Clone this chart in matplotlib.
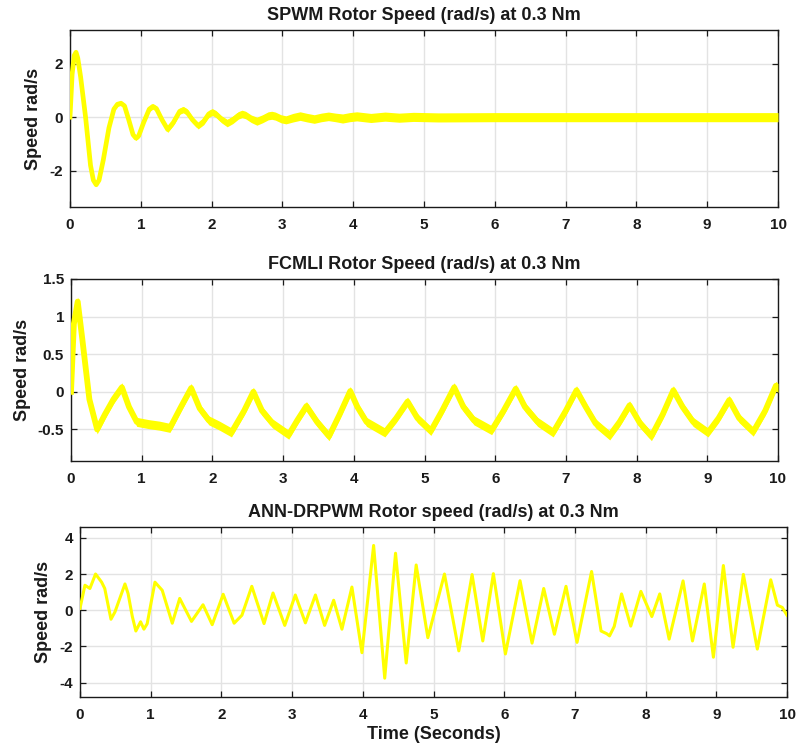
import numpy as np
import matplotlib
matplotlib.use("Agg")
import matplotlib.pyplot as plt

plt.rcParams['font.family'] = ['Liberation Sans', 'DejaVu Sans']
plt.rcParams['font.weight'] = 'bold'

# ---------------- data ----------------
titles = ["SPWM Rotor Speed (rad/s) at 0.3 Nm",
          "FCMLI Rotor Speed (rad/s) at 0.3 Nm",
          "ANN-DRPWM Rotor speed (rad/s) at 0.3 Nm"]
ylabel_text = "Speed rad/s"
xlabel_text = "Time (Seconds)"
x_ticks = [0, 1, 2, 3, 4, 5, 6, 7, 8, 9, 10]
y_ticks_spwm = [-2, 0, 2]
y_ticks_fcmli = [-0.5, 0, 0.5, 1, 1.5]
y_ticks_ann = [-4, -2, 0, 2, 4]

spwm_t = [0, 0.03, 0.06, 0.085, 0.11, 0.15, 0.22, 0.29, 0.33, 0.37, 0.41, 0.47,
          0.55, 0.62, 0.67, 0.72, 0.77, 0.83, 0.89, 0.93, 0.97, 1.04, 1.12, 1.17,
          1.22, 1.30, 1.38, 1.46, 1.55, 1.60, 1.65, 1.73, 1.81, 1.89, 1.96, 2.01,
          2.06, 2.14, 2.22, 2.30, 2.38, 2.43, 2.48, 2.56, 2.64, 2.72, 2.80, 2.85,
          2.90, 2.98, 3.05, 3.15, 3.25, 3.35, 3.45, 3.55, 3.65, 3.75, 3.85, 3.95,
          4.05, 4.25, 4.45, 4.65, 4.85, 5.2, 6.0, 7.0, 8.0, 9.0, 10.0]
spwm_v = [0.0, 1.6, 2.3, 2.42, 2.2, 1.5, 0.0, -1.8, -2.35, -2.52, -2.35, -1.6,
          -0.4, 0.3, 0.48, 0.52, 0.42, -0.1, -0.65, -0.78, -0.7, -0.2, 0.3, 0.4,
          0.32, -0.1, -0.46, -0.2, 0.22, 0.28, 0.2, -0.1, -0.32, -0.15, 0.12, 0.19,
          0.12, -0.08, -0.22, -0.1, 0.07, 0.12, 0.08, -0.06, -0.15, -0.06, 0.05, 0.07,
          0.04, -0.06, -0.1, -0.02, 0.04, -0.02, -0.07, -0.01, 0.03, -0.01, -0.05, 0.0,
          0.03, -0.03, 0.02, -0.02, 0.01, -0.01, 0.0, 0.0, 0.0, 0.0, 0.0]
spwm_ripple = [0.05, 0.05, 0.05, 0.05, 0.05, 0.05, 0.06, 0.06, 0.06, 0.06, 0.06, 0.07,
               0.07, 0.08, 0.08, 0.08, 0.08, 0.09, 0.09, 0.09, 0.09, 0.10, 0.10, 0.10,
               0.10, 0.11, 0.11, 0.11, 0.11, 0.12, 0.12, 0.12, 0.12, 0.13, 0.13, 0.13,
               0.13, 0.13, 0.14, 0.14, 0.14, 0.14, 0.14, 0.14, 0.15, 0.15, 0.15, 0.15,
               0.15, 0.15, 0.15, 0.16, 0.16, 0.16, 0.16, 0.16, 0.16, 0.16, 0.17, 0.17,
               0.17, 0.17, 0.17, 0.17, 0.17, 0.17, 0.17, 0.17, 0.17, 0.17, 0.17]

fcmli_t = [0, 0.04, 0.095, 0.16, 0.26, 0.37, 0.48, 0.6, 0.72, 0.82, 0.93, 1.1, 1.25,
           1.40, 1.55, 1.70, 1.82, 1.95, 2.1, 2.27, 2.45, 2.58, 2.7, 2.85, 3.08, 3.2,
           3.33, 3.48, 3.65, 3.8, 3.95, 4.05, 4.18, 4.44, 4.6, 4.76, 4.9, 5.09, 5.25,
           5.42, 5.55, 5.7, 5.95, 6.12, 6.29, 6.42, 6.6, 6.82, 7.0, 7.15, 7.28, 7.42,
           7.62, 7.76, 7.9, 8.05, 8.21, 8.37, 8.52, 8.65, 8.8, 9.01, 9.16, 9.31, 9.45,
           9.65, 9.82, 9.97, 10.0]
fcmli_v = [0.0, 0.9, 1.2, 0.7, -0.1, -0.5, -0.3, -0.1, 0.06, -0.2, -0.4, -0.43, -0.45,
           -0.48, -0.21, 0.05, -0.22, -0.38, -0.45, -0.54, -0.25, 0.0, -0.25, -0.42, -0.57, -0.38,
           -0.19, -0.4, -0.59, -0.3, 0.01, -0.2, -0.4, -0.54, -0.35, -0.13, -0.35, -0.52, -0.25,
           0.06, -0.2, -0.38, -0.51, -0.25, 0.04, -0.2, -0.4, -0.54, -0.25, 0.02, -0.2, -0.42,
           -0.58, -0.4, -0.18, -0.42, -0.59, -0.3, 0.02, -0.2, -0.4, -0.54, -0.35, -0.11, -0.35,
           -0.53, -0.25, 0.08, 0.05]
fcmli_ripple = 0.06

ann_t = [0.0, 0.07, 0.14, 0.22, 0.306, 0.35, 0.438, 0.494, 0.636, 0.68, 0.74, 0.79,
         0.857, 0.904, 0.95, 1.06, 1.163, 1.305, 1.41, 1.577, 1.74, 1.87, 2.025, 2.18,
         2.29, 2.43, 2.603, 2.73, 2.896, 3.046, 3.188, 3.33, 3.46, 3.588, 3.705, 3.846,
         3.988, 4.153, 4.31, 4.463, 4.614, 4.755, 4.92, 5.155, 5.358, 5.546, 5.697, 5.847,
         6.017, 6.224, 6.394, 6.559, 6.71, 6.874, 7.03, 7.236, 7.37, 7.45, 7.49, 7.556,
         7.66, 7.79, 7.933, 8.088, 8.2, 8.333, 8.53, 8.663, 8.83, 8.959, 9.1, 9.237,
         9.383, 9.58, 9.77, 9.864, 9.934, 10.0]
ann_v = [0.1, 1.38, 1.2, 2.0, 1.55, 1.2, -0.5, -0.1, 1.45, 0.92, -0.35, -1.15,
         -0.64, -1.05, -0.75, 1.55, 1.1, -0.72, 0.65, -0.62, 0.3, -0.8, 0.88, -0.72,
         -0.28, 1.32, -0.74, 0.95, -0.84, 0.84, -0.7, 0.84, -0.84, 0.55, -1.05, 1.28,
         -2.35, 3.58, -3.76, 3.15, -2.92, 2.5, -1.52, 2.0, -2.25, 1.97, -1.7, 2.02,
         -2.42, 1.63, -1.82, 1.2, -1.33, 1.32, -1.78, 2.14, -1.15, -1.3, -1.42, -0.9,
         0.9, -0.88, 1.04, -0.35, 0.9, -1.6, 1.62, -1.7, 1.45, -2.6, 2.47, -2.05,
         1.98, -2.15, 1.68, 0.28, 0.15, -0.28]

# ---------------- style ----------------
yellow = '#ffff00'
txt = '#1a1a1a'
grid_c = '#e3e3e3'

fig = plt.figure(figsize=(7.97, 7.51), dpi=100)
W, H = 797, 751
def rect(l, r, t, b):
    return [l / W, 1 - b / H, (r - l) / W, (b - t) / H]

ax1 = fig.add_axes(rect(70, 778, 30, 207))
ax2 = fig.add_axes(rect(71, 778, 279, 461))
ax3 = fig.add_axes(rect(80, 787, 527, 697))

def style(ax, yt, ylim, title):
    ax.set_xlim(0, 10)
    ax.set_ylim(*ylim)
    ax.set_xticks(x_ticks)
    ax.set_yticks(yt)
    ax.set_yticklabels([f"{v:g}" for v in yt])
    ax.grid(True, color=grid_c, linewidth=1.0)
    ax.set_axisbelow(True)
    ax.tick_params(direction='in', top=True, right=True, length=4, width=0.9,
                   labelsize=11, colors=txt)
    ax.tick_params(axis='x', pad=8)
    ax.tick_params(axis='y', pad=5)
    for lbl in ax.get_xticklabels() + ax.get_yticklabels():
        lbl.set_fontweight('bold')
    for s in ax.spines.values():
        s.set_linewidth(1.0)
        s.set_color(txt)
    ax.set_title(title, fontsize=13, fontweight='bold', color=txt, pad=7)
    ax.set_ylabel(ylabel_text, fontsize=13, fontweight='bold', color=txt, labelpad=5)

# SPWM
t1 = np.array(spwm_t); v1 = np.array(spwm_v); r1 = np.array(spwm_ripple)
ax1.fill_between(t1, v1 - r1, v1 + r1, color=yellow, linewidth=0, zorder=3)
ax1.plot(t1, v1, color=yellow, linewidth=3.4, solid_joinstyle='round', zorder=3)
style(ax1, y_ticks_spwm, (-3.35, 3.25), titles[0])

# FCMLI
t2 = np.array(fcmli_t); v2 = np.array(fcmli_v)
ax2.fill_between(t2, v2 - fcmli_ripple, v2 + fcmli_ripple, color=yellow, linewidth=0, zorder=3)
ax2.plot(t2, v2, color=yellow, linewidth=4.2, solid_joinstyle='round', zorder=3)
style(ax2, y_ticks_fcmli, (-0.92, 1.5), titles[1])

# ANN-DRPWM
ax3.plot(ann_t, ann_v, color=yellow, linewidth=2.2, solid_joinstyle='round', zorder=3)
style(ax3, y_ticks_ann, (-4.8, 4.6), titles[2])
ax3.set_xlabel(xlabel_text, fontsize=13, fontweight='bold', color=txt, labelpad=3)

fig.savefig("out.png", dpi=100, facecolor='white')
